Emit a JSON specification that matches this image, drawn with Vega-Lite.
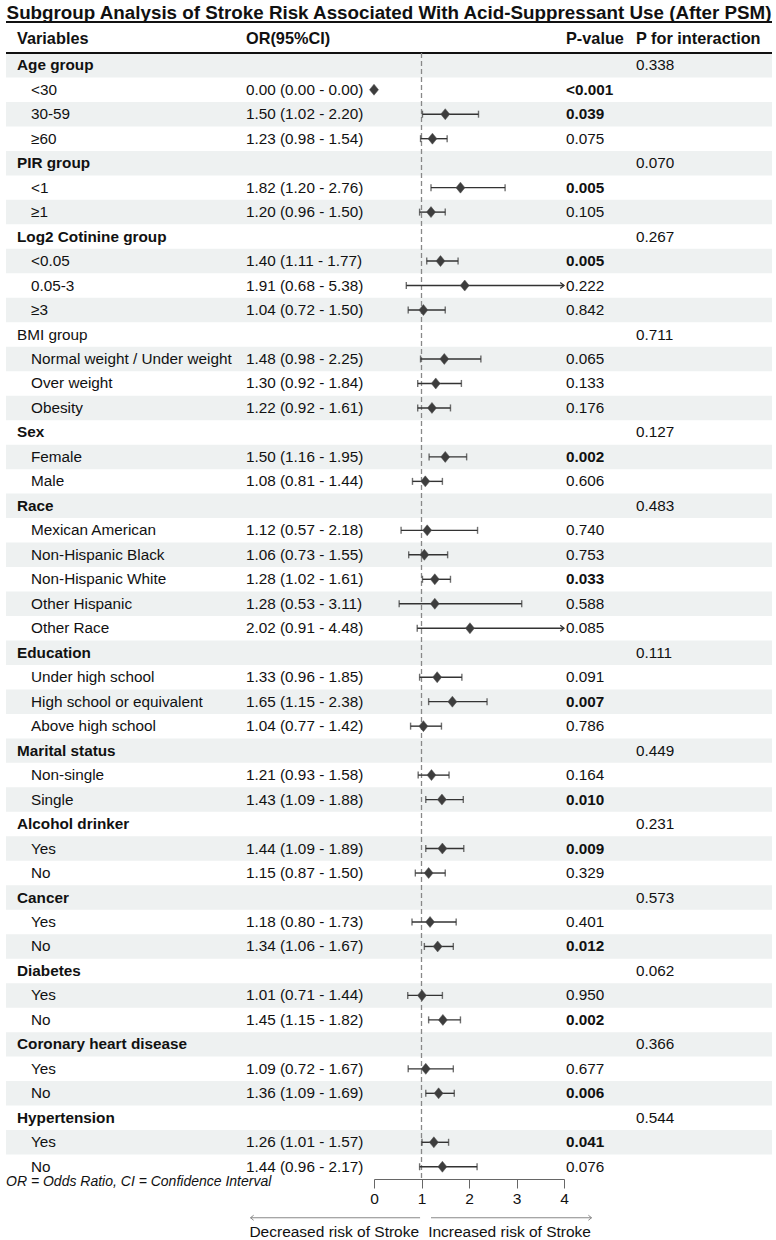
{
  "$schema": "https://vega.github.io/schema/vega-lite/v6.json",
  "background": "white",
  "padding": {"top": 4, "left": 5, "right": 5, "bottom": 2},
  "bounds": "flush",
  "spacing": 0,
  "resolve": {"scale": {"y": "shared"}},
  "title": {"text": "Subgroup Analysis of Stroke Risk Associated With Acid-Suppressant Use (After PSM)", "font": "Liberation Sans", "fontSize": 18.8, "fontWeight": "bold", "color": "#111", "anchor": "middle", "offset": -2},
  "config": {
    "view": {"stroke": null},
    "text": {"font": "Liberation Sans", "fontSize": 15.3, "color": "#111", "align": "left", "baseline": "middle"}
  },
  "datasets": {
    "rows": [
      {"id": 1, "label": "Age group", "level": "group", "pint": "0.338"},
      {"id": 2, "label": "<30", "level": "sub", "or": 0.00, "lo": 0.00, "hi": 0.00, "ortext": "0.00 (0.00 - 0.00)", "p": "<0.001"},
      {"id": 3, "label": "30-59", "level": "sub", "or": 1.50, "lo": 1.02, "hi": 2.20, "ortext": "1.50 (1.02 - 2.20)", "p": "0.039"},
      {"id": 4, "label": "≥60", "level": "sub", "or": 1.23, "lo": 0.98, "hi": 1.54, "ortext": "1.23 (0.98 - 1.54)", "p": "0.075"},
      {"id": 5, "label": "PIR group", "level": "group", "pint": "0.070"},
      {"id": 6, "label": "<1", "level": "sub", "or": 1.82, "lo": 1.20, "hi": 2.76, "ortext": "1.82 (1.20 - 2.76)", "p": "0.005"},
      {"id": 7, "label": "≥1", "level": "sub", "or": 1.20, "lo": 0.96, "hi": 1.50, "ortext": "1.20 (0.96 - 1.50)", "p": "0.105"},
      {"id": 8, "label": "Log2 Cotinine group", "level": "group", "pint": "0.267"},
      {"id": 9, "label": "<0.05", "level": "sub", "or": 1.40, "lo": 1.11, "hi": 1.77, "ortext": "1.40 (1.11 - 1.77)", "p": "0.005"},
      {"id": 10, "label": "0.05-3", "level": "sub", "or": 1.91, "lo": 0.68, "hi": 5.38, "ortext": "1.91 (0.68 - 5.38)", "p": "0.222"},
      {"id": 11, "label": "≥3", "level": "sub", "or": 1.04, "lo": 0.72, "hi": 1.50, "ortext": "1.04 (0.72 - 1.50)", "p": "0.842"},
      {"id": 12, "label": "BMI group", "level": "group", "pint": "0.711"},
      {"id": 13, "label": "Normal weight / Under weight", "level": "sub", "or": 1.48, "lo": 0.98, "hi": 2.25, "ortext": "1.48 (0.98 - 2.25)", "p": "0.065"},
      {"id": 14, "label": "Over weight", "level": "sub", "or": 1.30, "lo": 0.92, "hi": 1.84, "ortext": "1.30 (0.92 - 1.84)", "p": "0.133"},
      {"id": 15, "label": "Obesity", "level": "sub", "or": 1.22, "lo": 0.92, "hi": 1.61, "ortext": "1.22 (0.92 - 1.61)", "p": "0.176"},
      {"id": 16, "label": "Sex", "level": "group", "pint": "0.127"},
      {"id": 17, "label": "Female", "level": "sub", "or": 1.50, "lo": 1.16, "hi": 1.95, "ortext": "1.50 (1.16 - 1.95)", "p": "0.002"},
      {"id": 18, "label": "Male", "level": "sub", "or": 1.08, "lo": 0.81, "hi": 1.44, "ortext": "1.08 (0.81 - 1.44)", "p": "0.606"},
      {"id": 19, "label": "Race", "level": "group", "pint": "0.483"},
      {"id": 20, "label": "Mexican American", "level": "sub", "or": 1.12, "lo": 0.57, "hi": 2.18, "ortext": "1.12 (0.57 - 2.18)", "p": "0.740"},
      {"id": 21, "label": "Non-Hispanic Black", "level": "sub", "or": 1.06, "lo": 0.73, "hi": 1.55, "ortext": "1.06 (0.73 - 1.55)", "p": "0.753"},
      {"id": 22, "label": "Non-Hispanic White", "level": "sub", "or": 1.28, "lo": 1.02, "hi": 1.61, "ortext": "1.28 (1.02 - 1.61)", "p": "0.033"},
      {"id": 23, "label": "Other Hispanic", "level": "sub", "or": 1.28, "lo": 0.53, "hi": 3.11, "ortext": "1.28 (0.53 - 3.11)", "p": "0.588"},
      {"id": 24, "label": "Other Race", "level": "sub", "or": 2.02, "lo": 0.91, "hi": 4.48, "ortext": "2.02 (0.91 - 4.48)", "p": "0.085"},
      {"id": 25, "label": "Education", "level": "group", "pint": "0.111"},
      {"id": 26, "label": "Under high school", "level": "sub", "or": 1.33, "lo": 0.96, "hi": 1.85, "ortext": "1.33 (0.96 - 1.85)", "p": "0.091"},
      {"id": 27, "label": "High school or equivalent", "level": "sub", "or": 1.65, "lo": 1.15, "hi": 2.38, "ortext": "1.65 (1.15 - 2.38)", "p": "0.007"},
      {"id": 28, "label": "Above high school", "level": "sub", "or": 1.04, "lo": 0.77, "hi": 1.42, "ortext": "1.04 (0.77 - 1.42)", "p": "0.786"},
      {"id": 29, "label": "Marital status", "level": "group", "pint": "0.449"},
      {"id": 30, "label": "Non-single", "level": "sub", "or": 1.21, "lo": 0.93, "hi": 1.58, "ortext": "1.21 (0.93 - 1.58)", "p": "0.164"},
      {"id": 31, "label": "Single", "level": "sub", "or": 1.43, "lo": 1.09, "hi": 1.88, "ortext": "1.43 (1.09 - 1.88)", "p": "0.010"},
      {"id": 32, "label": "Alcohol drinker", "level": "group", "pint": "0.231"},
      {"id": 33, "label": "Yes", "level": "sub", "or": 1.44, "lo": 1.09, "hi": 1.89, "ortext": "1.44 (1.09 - 1.89)", "p": "0.009"},
      {"id": 34, "label": "No", "level": "sub", "or": 1.15, "lo": 0.87, "hi": 1.50, "ortext": "1.15 (0.87 - 1.50)", "p": "0.329"},
      {"id": 35, "label": "Cancer", "level": "group", "pint": "0.573"},
      {"id": 36, "label": "Yes", "level": "sub", "or": 1.18, "lo": 0.80, "hi": 1.73, "ortext": "1.18 (0.80 - 1.73)", "p": "0.401"},
      {"id": 37, "label": "No", "level": "sub", "or": 1.34, "lo": 1.06, "hi": 1.67, "ortext": "1.34 (1.06 - 1.67)", "p": "0.012"},
      {"id": 38, "label": "Diabetes", "level": "group", "pint": "0.062"},
      {"id": 39, "label": "Yes", "level": "sub", "or": 1.01, "lo": 0.71, "hi": 1.44, "ortext": "1.01 (0.71 - 1.44)", "p": "0.950"},
      {"id": 40, "label": "No", "level": "sub", "or": 1.45, "lo": 1.15, "hi": 1.82, "ortext": "1.45 (1.15 - 1.82)", "p": "0.002"},
      {"id": 41, "label": "Coronary heart disease", "level": "group", "pint": "0.366"},
      {"id": 42, "label": "Yes", "level": "sub", "or": 1.09, "lo": 0.72, "hi": 1.67, "ortext": "1.09 (0.72 - 1.67)", "p": "0.677"},
      {"id": 43, "label": "No", "level": "sub", "or": 1.36, "lo": 1.09, "hi": 1.69, "ortext": "1.36 (1.09 - 1.69)", "p": "0.006"},
      {"id": 44, "label": "Hypertension", "level": "group", "pint": "0.544"},
      {"id": 45, "label": "Yes", "level": "sub", "or": 1.26, "lo": 1.01, "hi": 1.57, "ortext": "1.26 (1.01 - 1.57)", "p": "0.041"},
      {"id": 46, "label": "No", "level": "sub", "or": 1.44, "lo": 0.96, "hi": 2.17, "ortext": "1.44 (0.96 - 2.17)", "p": "0.076"}
    ]
  },
  "data": {"name": "rows"},
  "hconcat": [
    {
      "width": 235, "height": 1126,
      "layer": [
        {"transform": [{"filter": "datum.id % 2 === 1"}], "mark": {"type": "rect", "color": "#eef1f1"}, "encoding": {"y": {"field": "id", "type": "ordinal", "axis": null, "scale": {"paddingInner": 0, "paddingOuter": 0}}}},
        {"data": {"values": [{"h": "Variables"}]}, "mark": {"type": "rule", "color": "#111", "strokeWidth": 2}, "encoding": {"y": {"datum": 1, "type": "ordinal", "bandPosition": 0}}},
        {"data": {"values": [{"h": "Variables"}]}, "mark": {"type": "rule", "color": "#111", "strokeWidth": 2, "yOffset": -31}, "encoding": {"y": {"datum": 1, "type": "ordinal", "bandPosition": 0}}},
        {"data": {"values": [{"h": "Variables"}]}, "mark": {"type": "text", "fontWeight": "bold", "fontSize": 16.3, "dx": 11, "dy": -26}, "encoding": {"x": {"value": 0}, "y": {"datum": 1, "type": "ordinal"}, "text": {"field": "h"}}},
        {"transform": [{"filter": "datum.level === 'group' && datum.label !== 'BMI group'"}], "mark": {"type": "text", "fontWeight": "bold", "dx": 11}, "encoding": {"x": {"value": 0}, "y": {"field": "id", "type": "ordinal"}, "text": {"field": "label"}}},
        {"transform": [{"filter": "datum.label === 'BMI group'"}], "mark": {"type": "text", "dx": 11}, "encoding": {"x": {"value": 0}, "y": {"field": "id", "type": "ordinal"}, "text": {"field": "label"}}},
        {"transform": [{"filter": "datum.level === 'sub'"}], "mark": {"type": "text", "dx": 25}, "encoding": {"x": {"value": 0}, "y": {"field": "id", "type": "ordinal"}, "text": {"field": "label"}}},
        {"data": {"values": [{"note": "OR = Odds Ratio, CI = Confidence Interval"}]}, "mark": {"type": "text", "fontStyle": "italic", "fontSize": 14, "dy": 15}, "encoding": {"x": {"value": 0}, "y": {"datum": 46, "type": "ordinal"}, "text": {"field": "note"}}}
      ]
    },
    {
      "width": 133, "height": 1126,
      "layer": [
        {"transform": [{"filter": "datum.id % 2 === 1"}], "mark": {"type": "rect", "color": "#eef1f1"}, "encoding": {"y": {"field": "id", "type": "ordinal", "axis": null, "scale": {"paddingInner": 0, "paddingOuter": 0}}}},
        {"data": {"values": [{"h": "OR(95%CI)"}]}, "mark": {"type": "rule", "color": "#111", "strokeWidth": 2}, "encoding": {"y": {"datum": 1, "type": "ordinal", "bandPosition": 0}}},
        {"data": {"values": [{"h": "OR(95%CI)"}]}, "mark": {"type": "rule", "color": "#111", "strokeWidth": 2, "yOffset": -31}, "encoding": {"y": {"datum": 1, "type": "ordinal", "bandPosition": 0}}},
        {"data": {"values": [{"h": "OR(95%CI)"}]}, "mark": {"type": "text", "fontWeight": "bold", "fontSize": 16.3, "dx": 5, "dy": -26}, "encoding": {"x": {"value": 0}, "y": {"datum": 1, "type": "ordinal"}, "text": {"field": "h"}}},
        {"transform": [{"filter": "datum.level === 'sub'"}], "mark": {"type": "text", "dx": 5}, "encoding": {"x": {"value": 0}, "y": {"field": "id", "type": "ordinal"}, "text": {"field": "ortext"}}}
      ]
    },
    {
      "width": 190, "height": 1126,
      "layer": [
        {"transform": [{"filter": "datum.id % 2 === 1"}], "mark": {"type": "rect", "color": "#eef1f1"}, "encoding": {"y": {"field": "id", "type": "ordinal", "axis": null, "scale": {"paddingInner": 0, "paddingOuter": 0}}}},
        {"data": {"values": [{"h": ""}]}, "mark": {"type": "rule", "color": "#111", "strokeWidth": 2}, "encoding": {"y": {"datum": 1, "type": "ordinal", "bandPosition": 0}}},
        {"data": {"values": [{"h": ""}]}, "mark": {"type": "rule", "color": "#111", "strokeWidth": 2, "yOffset": -31}, "encoding": {"y": {"datum": 1, "type": "ordinal", "bandPosition": 0}}},
        {"data": {"values": [{"h": ""}]}, "mark": {"type": "rule", "color": "#888", "strokeWidth": 1.3, "strokeDash": [5, 3]}, "encoding": {"x": {"datum": 1}}},
        {"transform": [{"filter": "datum.level === 'sub'"}], "mark": {"type": "rule", "color": "#333", "strokeWidth": 1.4, "clip": true},
         "encoding": {"x": {"field": "lo", "type": "quantitative", "title": null, "scale": {"domain": [0, 4], "nice": false, "zero": false},
           "axis": {"values": [0, 1, 2, 3, 4], "orient": "bottom", "grid": false, "domainColor": "#666", "tickColor": "#666", "tickSize": 9, "labelFont": "Liberation Sans", "labelFontSize": 15.5, "labelColor": "#111", "labelPadding": 3, "labelFlush": false, "title": null}},
           "x2": {"field": "hi"}, "y": {"field": "id", "type": "ordinal"}}},
        {"transform": [{"filter": "datum.level === 'sub'"}], "mark": {"type": "tick", "orient": "vertical", "size": 7, "thickness": 1.4, "color": "#333"}, "encoding": {"x": {"field": "lo", "type": "quantitative", "title": null}, "y": {"field": "id", "type": "ordinal"}}},
        {"transform": [{"filter": "datum.level === 'sub' && datum.hi <= 4"}], "mark": {"type": "tick", "orient": "vertical", "size": 7, "thickness": 1.4, "color": "#333"}, "encoding": {"x": {"field": "hi", "type": "quantitative", "title": null}, "y": {"field": "id", "type": "ordinal"}}},
        {"transform": [{"filter": "datum.level === 'sub' && datum.hi > 4"}], "mark": {"type": "point", "shape": "M-1,-0.8L0,0L-1,0.8", "size": 56, "filled": false, "stroke": "#333", "strokeWidth": 1.3, "opacity": 1}, "encoding": {"x": {"datum": 4}, "y": {"field": "id", "type": "ordinal"}}},
        {"transform": [{"filter": "datum.level === 'sub'"}], "mark": {"type": "point", "shape": "M0,-1.1L0.9,0L0,1.1L-0.9,0Z", "size": 100, "filled": true, "fill": "#3d3d3d", "stroke": "#555", "strokeWidth": 0.5, "opacity": 1}, "encoding": {"x": {"field": "or", "type": "quantitative", "title": null}, "y": {"field": "id", "type": "ordinal"}}},
        {"data": {"values": [{"h": ""}]}, "mark": {"type": "rule", "color": "#888", "strokeWidth": 1, "yOffset": 51}, "encoding": {"x": {"datum": 0.97}, "x2": {"datum": -2.6}, "y": {"datum": 46, "type": "ordinal"}}},
        {"data": {"values": [{"h": ""}]}, "mark": {"type": "rule", "color": "#888", "strokeWidth": 1, "yOffset": 51}, "encoding": {"x": {"datum": 1.2}, "x2": {"datum": 4.58}, "y": {"datum": 46, "type": "ordinal"}}},
        {"data": {"values": [{"h": ""}]}, "mark": {"type": "point", "shape": "M1,-0.8L0,0L1,0.8", "size": 40, "filled": false, "stroke": "#888", "strokeWidth": 1, "opacity": 1, "yOffset": 51}, "encoding": {"x": {"datum": -2.6}, "y": {"datum": 46, "type": "ordinal"}}},
        {"data": {"values": [{"h": ""}]}, "mark": {"type": "point", "shape": "M-1,-0.8L0,0L-1,0.8", "size": 40, "filled": false, "stroke": "#888", "strokeWidth": 1, "opacity": 1, "yOffset": 51}, "encoding": {"x": {"datum": 4.58}, "y": {"datum": 46, "type": "ordinal"}}},
        {"data": {"values": [{"t": "Decreased risk of Stroke"}]}, "mark": {"type": "text", "align": "right", "fontSize": 15.5, "dy": 65}, "encoding": {"x": {"datum": 0.95}, "y": {"datum": 46, "type": "ordinal"}, "text": {"field": "t"}}},
        {"data": {"values": [{"t": "Increased risk of Stroke"}]}, "mark": {"type": "text", "align": "left", "fontSize": 15.5, "dy": 65}, "encoding": {"x": {"datum": 1.14}, "y": {"datum": 46, "type": "ordinal"}, "text": {"field": "t"}}}
      ]
    },
    {
      "width": 67, "height": 1126,
      "layer": [
        {"transform": [{"filter": "datum.id % 2 === 1"}], "mark": {"type": "rect", "color": "#eef1f1"}, "encoding": {"y": {"field": "id", "type": "ordinal", "axis": null, "scale": {"paddingInner": 0, "paddingOuter": 0}}}},
        {"data": {"values": [{"h": "P-value"}]}, "mark": {"type": "rule", "color": "#111", "strokeWidth": 2}, "encoding": {"y": {"datum": 1, "type": "ordinal", "bandPosition": 0}}},
        {"data": {"values": [{"h": "P-value"}]}, "mark": {"type": "rule", "color": "#111", "strokeWidth": 2, "yOffset": -31}, "encoding": {"y": {"datum": 1, "type": "ordinal", "bandPosition": 0}}},
        {"data": {"values": [{"h": "P-value"}]}, "mark": {"type": "text", "fontWeight": "bold", "fontSize": 16.3, "dx": 2, "dy": -26}, "encoding": {"x": {"value": 0}, "y": {"datum": 1, "type": "ordinal"}, "text": {"field": "h"}}},
        {"transform": [{"filter": "isValid(datum.p) && (datum.p === '<0.001' || toNumber(datum.p) < 0.05)"}], "mark": {"type": "text", "fontWeight": "bold", "dx": 2}, "encoding": {"x": {"value": 0}, "y": {"field": "id", "type": "ordinal"}, "text": {"field": "p"}}},
        {"transform": [{"filter": "isValid(datum.p) && datum.p !== '<0.001' && toNumber(datum.p) >= 0.05"}], "mark": {"type": "text", "dx": 2}, "encoding": {"x": {"value": 0}, "y": {"field": "id", "type": "ordinal"}, "text": {"field": "p"}}}
      ]
    },
    {
      "width": 141, "height": 1126,
      "layer": [
        {"transform": [{"filter": "datum.id % 2 === 1"}], "mark": {"type": "rect", "color": "#eef1f1"}, "encoding": {"y": {"field": "id", "type": "ordinal", "axis": null, "scale": {"paddingInner": 0, "paddingOuter": 0}}}},
        {"data": {"values": [{"h": "P for interaction"}]}, "mark": {"type": "rule", "color": "#111", "strokeWidth": 2}, "encoding": {"y": {"datum": 1, "type": "ordinal", "bandPosition": 0}}},
        {"data": {"values": [{"h": "P for interaction"}]}, "mark": {"type": "rule", "color": "#111", "strokeWidth": 2, "yOffset": -31}, "encoding": {"y": {"datum": 1, "type": "ordinal", "bandPosition": 0}}},
        {"data": {"values": [{"h": "P for interaction"}]}, "mark": {"type": "text", "fontWeight": "bold", "fontSize": 16.3, "dx": 5, "dy": -26}, "encoding": {"x": {"value": 0}, "y": {"datum": 1, "type": "ordinal"}, "text": {"field": "h"}}},
        {"transform": [{"filter": "datum.level === 'group'"}], "mark": {"type": "text", "dx": 5}, "encoding": {"x": {"value": 0}, "y": {"field": "id", "type": "ordinal"}, "text": {"field": "pint"}}}
      ]
    }
  ]
}
